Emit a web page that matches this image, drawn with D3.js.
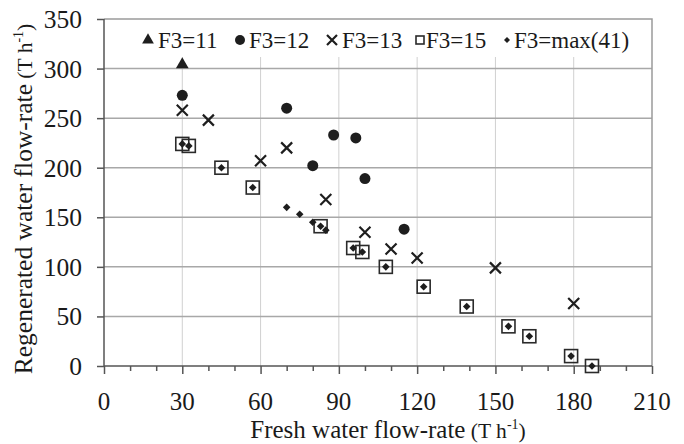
<!DOCTYPE html>
<html><head><meta charset="utf-8">
<script src="https://cdn.jsdelivr.net/npm/d3@7"></script>
<style>body{margin:0;background:#fff}svg{display:block}</style>
</head><body><svg id="c" width="684" height="444"></svg>
<script>
const xTicks = [0,30,60,90,120,150,180,210];
const yTicks = [0,50,100,150,200,250,300,350];
const seriesNames = ["F3=11","F3=12","F3=13","F3=15","F3=max(41)"];
const f3_11 = [[30,304]];
const f3_12 = [[30,273],[70,260],[88,233],[96.5,230],[80,202],[100,189],[115,138]];
const f3_13 = [[30,258],[40,248],[60,207],[70,220],[85,168],[100,135],[110,118],[120,109],[150,99],[180,63]];
const f3_15 = [[30,224],[32.5,222],[45,200],[57,180],[83,141],[95.5,119],[99,115],[108,100],[122.5,80],[139,60],[155,40],[163,30],[179,10],[187,0]];
const f3_max = [[30,224],[32.5,222],[45,200],[57,180],[70,160],[75,153],[80,145],[83,141],[85,137],[95.5,119],[99,115],[108,100],[122.5,80],[139,60],[155,40],[163,30],[179,10],[187,0]];

const FONT = "'Liberation Serif','DejaVu Serif','Times New Roman',Times,serif";
const svg = d3.select("#c");
const L=104,R=652,T=19,B=366;
const x = d3.scaleLinear().domain([0,210]).range([L,R]);
const y = d3.scaleLinear().domain([0,350]).range([B,T]);
const ink="#1e1e1e";
function txt(sel){ return sel.style("font-family",FONT).attr("fill","#1a1a1a"); }

// vertical gridlines
svg.append("g").selectAll("line").data(xTicks.slice(1,-1)).join("line")
  .attr("x1",d=>x(d)).attr("x2",d=>x(d)).attr("y1",T).attr("y2",B)
  .attr("stroke","#d0d0d0").attr("stroke-width",1);
// horizontal gridlines
svg.append("g").selectAll("line").data(yTicks.slice(1,-1)).join("line")
  .attr("x1",L).attr("x2",R).attr("y1",d=>y(d)).attr("y2",d=>y(d))
  .attr("stroke","#a8a8a8").attr("stroke-width",1.5);
// legend background
svg.append("rect").attr("x",L).attr("y",T).attr("width",R-L).attr("height",38).attr("fill","#fff");
// frame top/right
svg.append("path").attr("d",`M${L},${T}H${R}V${B}`).attr("fill","none").attr("stroke","#9a9a9a").attr("stroke-width",1.5);

// axes
const xAxis = d3.axisBottom(x).tickValues(d3.range(0,211,10)).tickSize(5).tickFormat("");
const gx = svg.append("g").attr("transform",`translate(0,${B})`).call(xAxis);
gx.selectAll("line").attr("stroke","#555").attr("stroke-width",1.5).attr("y2",d=>d%30===0?8:5);
gx.select(".domain").attr("stroke","#555").attr("stroke-width",1.5).attr("d",`M${L},0H${R}`);
txt(svg.append("g").selectAll("text").data(xTicks).join("text"))
  .attr("x",d=>x(d)).attr("y",410).attr("text-anchor","middle").attr("font-size",25).text(d=>d);

const yAxis = d3.axisLeft(y).tickValues(yTicks).tickSize(7).tickFormat("");
const gy = svg.append("g").attr("transform",`translate(${L},0)`).call(yAxis);
gy.selectAll("line").attr("stroke","#555").attr("stroke-width",1.5);
gy.select(".domain").attr("stroke","#555").attr("stroke-width",1.5).attr("d",`M0,${B}V${T}`);
txt(svg.append("g").selectAll("text").data(yTicks).join("text"))
  .attr("x",82).attr("y",d=>y(d)+9).attr("text-anchor","end").attr("font-size",25.5).text(d=>d);

// axis titles
function title(sel, main){
  sel.append("tspan").text(main);
  sel.append("tspan").attr("font-size",21.5).text(" (T h");
  sel.append("tspan").attr("font-size",14).attr("dy",-9).text("-1");
  sel.append("tspan").attr("font-size",21.5).attr("dy",9).text(")");
}
const xt = txt(svg.append("text")).attr("x",388).attr("y",438).attr("text-anchor","middle").attr("font-size",25);
title(xt,"Fresh water flow-rate");
const yt = txt(svg.append("text")).attr("transform","translate(32,199) rotate(-90)").attr("text-anchor","middle").attr("font-size",25.5);
title(yt,"Regenerated water flow-rate");

// markers
const sym = {
  tri: (g,s)=>g.append("path").attr("d",d3.symbol(d3.symbolTriangle,s||70)()).attr("fill",ink),
  circ:(g,r)=>g.append("circle").attr("r",r||5.5).attr("fill",ink),
  cross:(g,h)=>{h=h||5.5;g.append("path").attr("d",`M${-h},${-h}L${h},${h}M${-h},${h}L${h},${-h}`).attr("stroke",ink).attr("stroke-width",2.2).attr("fill","none");},
  sq:(g,a)=>{a=a||13;g.append("rect").attr("x",-a/2).attr("y",-a/2).attr("width",a).attr("height",a).attr("fill","none").attr("stroke","#2a2a2a").attr("stroke-width",1.6);},
  dia:(g,a)=>{a=a||3.8;g.append("path").attr("d",`M0,${-a}L${a},0L0,${a}L${-a},0Z`).attr("fill",ink);}
};
function plot(data, fn){
  svg.append("g").selectAll("g").data(data).join("g")
    .attr("transform",d=>`translate(${x(d[0])},${y(d[1])})`)
    .each(function(){fn(d3.select(this));});
}
plot(f3_11, g=>sym.tri(g));
plot(f3_12, g=>sym.circ(g));
plot(f3_13, g=>sym.cross(g));
plot(f3_15, g=>sym.sq(g));
plot(f3_max, g=>sym.dia(g));

// legend
const leg = [
  {sx:148, tx:158, f:g=>sym.tri(g,60)},
  {sx:240, tx:249, f:g=>sym.circ(g,5)},
  {sx:332, tx:342, f:g=>sym.cross(g,5)},
  {sx:420, tx:426, f:g=>sym.sq(g,8)},
  {sx:507, tx:514, f:g=>sym.dia(g,3)}
];
leg.forEach((l,i)=>{
  const g = svg.append("g").attr("transform",`translate(${l.sx},40)`); l.f(g);
  txt(svg.append("text")).attr("x",l.tx).attr("y",47.5).attr("font-size",23).text(seriesNames[i]);
});
</script></body></html>
